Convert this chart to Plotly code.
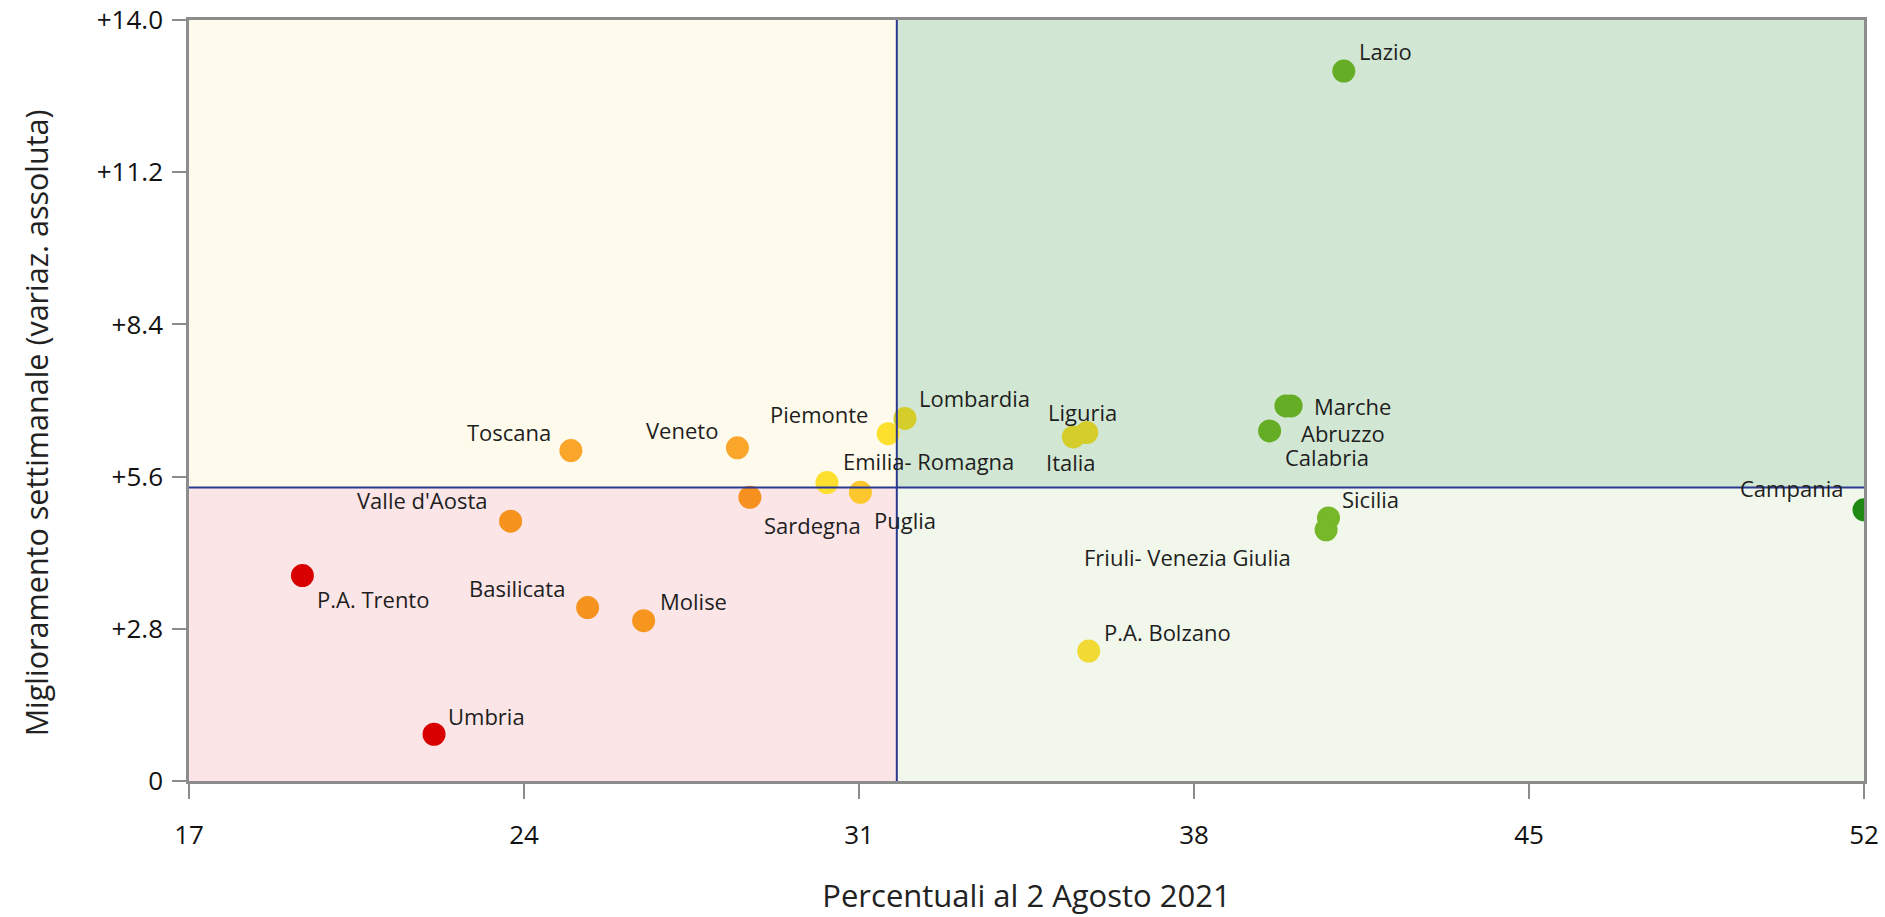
import plotly.graph_objects as go

# Dati per regione
regioni = ["Lazio", "Marche", "Calabria", "Abruzzo", "Liguria", "Italia", "Lombardia",
           "Piemonte", "Emilia- Romagna", "Puglia", "Sardegna", "Veneto", "Toscana",
           "Valle d'Aosta", "P.A. Trento", "Basilicata", "Molise", "Umbria",
           "P.A. Bolzano", "Sicilia", "Friuli- Venezia Giulia", "Campania"]
percentuali = [41.13, 40.03, 39.92, 39.58, 35.76, 35.48, 31.96,
               31.61, 30.33, 31.03, 28.72, 28.46, 24.98,
               23.72, 19.37, 25.33, 26.50, 22.12,
               35.80, 40.81, 40.76, 52.0]
miglioramento = [13.06, 6.90, 6.90, 6.44, 6.41, 6.33, 6.67,
                 6.39, 5.49, 5.31, 5.22, 6.13, 6.08,
                 4.78, 3.78, 3.19, 2.95, 0.86,
                 2.39, 4.84, 4.62, 4.99]
colori = ["#66ad26", "#66ad26", "#66ad26", "#66ad26", "#d4cd2a", "#d4cd2a", "#d4cd2a",
          "#fde02e", "#fde02e", "#fcc72c", "#f6901e", "#f9a62b", "#f9a62b",
          "#f6921e", "#d80000", "#f6921e", "#f7961f", "#d80000",
          "#f1da34", "#77b72a", "#77b72a", "#1f8a13"]

# Soglie dei quadranti
soglia_x = 31.79
soglia_y = 5.40

x_ticks = [17, 24, 31, 38, 45, 52]
y_ticks = [0, 2.8, 5.6, 8.4, 11.2, 14.0]
y_ticktext = ["0", "+2.8", "+5.6", "+8.4", "+11.2", "+14.0"]

X_MIN, X_MAX = 17, 52
Y_MIN, Y_MAX = 0, 14

titolo_x = "Percentuali al 2 Agosto 2021"
titolo_y = "Miglioramento settimanale (variaz. assoluta)"

FONT = "Open Sans, Noto Sans, sans-serif"

# Posizione delle etichette: (ancoraggio, scostamento x px, scostamento y px verso il basso)
etichette = {
    "Lazio": ("left", 13, -20),
    "Marche": ("left", 21, 0),
    "Calabria": ("left", -3, 51),
    "Abruzzo": ("left", 29, 2),
    "Liguria": ("center", -4, -21),
    "Italia": ("center", -2, 25),
    "Lombardia": ("left", 12, -20),
    "Piemonte": ("right", -18, -20),
    "Emilia- Romagna": ("left", 14, -22),
    "Puglia": ("left", 12, 28),
    "Sardegna": ("left", 12, 28),
    "Veneto": ("right", -17, -18),
    "Toscana": ("right", -18, -19),
    "Valle d'Aosta": ("right", -21, -21),
    "P.A. Trento": ("left", 13, 23),
    "Basilicata": ("right", -21, -20),
    "Molise": ("left", 14, -20),
    "Umbria": ("left", 12, -18),
    "P.A. Bolzano": ("left", 13, -19),
    "Sicilia": ("left", 12, -19),
    "Friuli- Venezia Giulia": ("right", -33, 27),
    "Campania": ("right", -19, -22),
}

fig = go.Figure()

# Sfondi dei quadranti
quadranti = [
    (X_MIN, soglia_x, soglia_y, Y_MAX, "#fffbec"),
    (soglia_x, X_MAX, soglia_y, Y_MAX, "#d2e7d3"),
    (X_MIN, soglia_x, Y_MIN, soglia_y, "#fbe5e7"),
    (soglia_x, X_MAX, Y_MIN, soglia_y, "#f1f7ea"),
]
for x0, x1, y0, y1, c in quadranti:
    fig.add_shape(type="rect", xref="x", yref="y", x0=x0, x1=x1, y0=y0, y1=y1,
                  fillcolor=c, line_width=0, layer="below")

fig.add_trace(go.Scatter(
    x=percentuali, y=miglioramento, mode="markers",
    marker=dict(size=23, color=colori, line=dict(width=0)),
    text=regioni, hoverinfo="text", showlegend=False, cliponaxis=True,
))

# Linee di soglia
fig.add_shape(type="line", xref="x", yref="y", x0=soglia_x, x1=soglia_x, y0=Y_MIN, y1=Y_MAX,
              line=dict(color="#2b3990", width=2), layer="above")
fig.add_shape(type="line", xref="x", yref="y", x0=X_MIN, x1=X_MAX, y0=soglia_y, y1=soglia_y,
              line=dict(color="#2b3990", width=2), layer="above")

for nome, xv, yv in zip(regioni, percentuali, miglioramento):
    anc, dx, dy = etichette[nome]
    fig.add_annotation(x=xv, y=yv, text=nome, showarrow=False,
                       xanchor=anc, yanchor="middle", xshift=dx, yshift=-dy,
                       font=dict(family=FONT, size=22, color="#1e1e1e"))

# Titolo dell'asse verticale, leggermente spostato verso il basso
fig.add_annotation(xref="paper", yref="paper", x=0, y=0.47, xshift=-153,
                   text=titolo_y, textangle=-90, showarrow=False,
                   xanchor="center", yanchor="middle",
                   font=dict(family=FONT, size=30.5, color="#222222"))

asse = dict(showgrid=False, zeroline=False, showline=True, linecolor="#8c8c8c",
            linewidth=2.5, mirror=True, ticks="outside", tickcolor="#8c8c8c",
            tickwidth=2, automargin=False,
            tickfont=dict(family=FONT, size=26, color="#111111"))

fig.update_xaxes(range=[X_MIN, X_MAX], tickvals=x_ticks, ticklen=15,
                 ticklabelstandoff=14,
                 title=dict(text=titolo_x, standoff=35,
                            font=dict(family=FONT, size=31, color="#222222")),
                 **asse)
fig.update_yaxes(range=[Y_MIN, Y_MAX], tickvals=y_ticks, ticktext=y_ticktext, ticklen=14,
                 ticklabelstandoff=4, **asse)

fig.update_layout(
    width=1885, height=917,
    margin=dict(l=189, r=21, t=20, b=136),
    plot_bgcolor="white", paper_bgcolor="white",
    font=dict(family=FONT),
)

fig.write_html("out.html")
